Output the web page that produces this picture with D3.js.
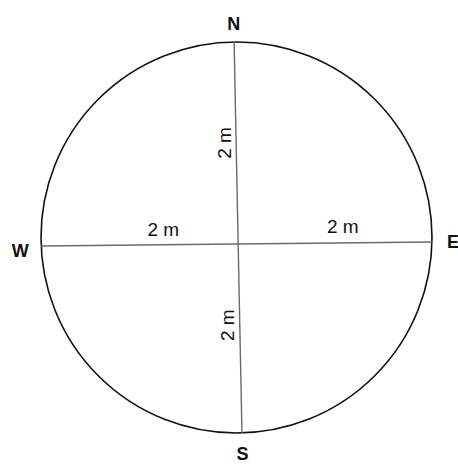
<!DOCTYPE html>
<html><head><meta charset="utf-8">
<script src="https://cdn.jsdelivr.net/npm/d3@7"></script>
<style>body{margin:0;background:#fff}svg{display:block}</style>
</head><body>
<script>
// Data
const directions = ["N", "E", "S", "W"];
const bearings = [-0.7, 91.3, 178.4, 267.5];   // degrees clockwise from north (as drawn)
const distances = [2, 2, 2, 2];                  // metres from centre to rim
const distLabels = ["2 m", "2 m", "2 m", "2 m"];

const W = 458, H = 464;
const cx = 236.5, cy = 237.5, R = 195.5;
const svg = d3.select("body").append("svg").attr("width", W).attr("height", H);

const rScale = d3.scaleLinear().domain([0, 2]).range([0, R]);
const pt = (b, d) => {
  const a = b * Math.PI / 180;
  return [cx + rScale(d) * Math.sin(a), cy - rScale(d) * Math.cos(a)];
};
const ends = directions.map((k, i) => ({ k, p: pt(bearings[i], distances[i]), b: bearings[i] }));
const byK = Object.fromEntries(ends.map(e => [e.k, e]));

// circle
svg.append("circle").attr("cx", cx).attr("cy", cy).attr("r", R)
  .attr("fill", "none").attr("stroke", "#111").attr("stroke-width", 1.6);

// cross lines
[["N", "S"], ["W", "E"]].forEach(([a, b]) => {
  svg.append("line")
    .attr("x1", byK[a].p[0]).attr("y1", byK[a].p[1])
    .attr("x2", byK[b].p[0]).attr("y2", byK[b].p[1])
    .attr("stroke", "#6a6a6a").attr("stroke-width", 1.4);
});

// direction labels (small vertical nudges as drawn)
const dirNudge = { N: 3, E: 0, S: 0, W: 4 };
ends.forEach(e => {
  const p = pt(e.b, 2 * (R + 21) / R);
  svg.append("text").attr("x", p[0]).attr("y", p[1] + dirNudge[e.k])
    .attr("text-anchor", "middle").attr("dominant-baseline", "central")
    .attr("font-family", "Liberation Sans, Arial, sans-serif")
    .attr("font-weight", "bold").attr("font-size", 18).attr("fill", "#111")
    .text(e.k);
});

// intersection of the two lines
function intersect(p1, p2, p3, p4) {
  const d = (p1[0]-p2[0])*(p3[1]-p4[1]) - (p1[1]-p2[1])*(p3[0]-p4[0]);
  const t = ((p1[0]-p3[0])*(p3[1]-p4[1]) - (p1[1]-p3[1])*(p3[0]-p4[0])) / d;
  return [p1[0] + t*(p2[0]-p1[0]), p1[1] + t*(p2[1]-p1[1])];
}
const X = intersect(byK.N.p, byK.S.p, byK.W.p, byK.E.p);

// distance labels: fraction along each half, perpendicular offset, rotation
const labelLayout = {
  N: { t: 0.5,  off: [-12, 0], rot: -90 },
  S: { t: 0.43, off: [-12, 0], rot: -90 },
  W: { t: 0.38, off: [0, -15], rot: 0 },
  E: { t: 0.54, off: [0, -16], rot: 0 }
};
directions.forEach((k, i) => {
  const L = labelLayout[k], e = byK[k].p;
  const x = X[0] + L.t * (e[0] - X[0]) + L.off[0];
  const y = X[1] + L.t * (e[1] - X[1]) + L.off[1];
  svg.append("text")
    .attr("transform", `translate(${x},${y}) rotate(${L.rot})`)
    .attr("text-anchor", "middle").attr("dominant-baseline", "central")
    .attr("font-family", "Liberation Sans, Arial, sans-serif")
    .attr("font-size", 19).attr("fill", "#111")
    .text(distLabels[i]);
});
</script>
</body></html>
